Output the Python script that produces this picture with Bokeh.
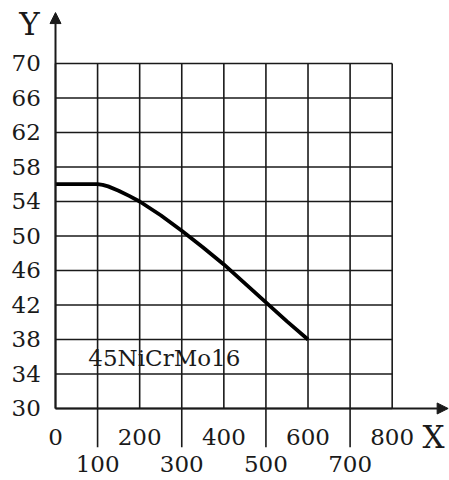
from bokeh.plotting import figure
from bokeh.models import Range1d, Arrow, NormalHead
from bokeh.core.properties import value
from bokeh.embed import file_html
from bokeh.resources import INLINE

# Data
curve_x = [0, 100, 112, 125, 150, 175, 200, 250, 300, 350, 400, 450, 500, 550, 600]
curve_y = [56, 56, 55.93, 55.75, 55.25, 54.65, 54.0, 52.4, 50.6, 48.7, 46.7, 44.5, 42.3, 40.1, 38]
x_ticks_even = [0, 200, 400, 600, 800]
x_ticks_odd = [100, 300, 500, 700]
y_ticks = [30, 34, 38, 42, 46, 50, 54, 58, 62, 66, 70]
series_label = "45NiCrMo16"

X_MIN, X_MAX, Y_MIN, Y_MAX = 0, 800, 30, 70
FONT = value("DejaVu Serif")
INK = "#1a1a1a"

p = figure(width=449, height=480, output_backend="svg", toolbar_location=None,
           x_range=Range1d(-130.7, 936.2), y_range=Range1d(21.65, 77.3),
           min_border=0, x_axis_type=None, y_axis_type=None)
p.grid.visible = False
p.outline_line_color = None
p.background_fill_color = "white"
p.border_fill_color = "white"

# grid
xs = [[x, x] for x in range(X_MIN, X_MAX + 1, 100)]
ys = [[Y_MIN, Y_MAX] for _ in xs]
p.multi_line(xs, ys, line_color=INK, line_width=1.6)
hx = [[X_MIN, X_MAX] for _ in y_ticks]
hy = [[y, y] for y in y_ticks]
p.multi_line(hx, hy, line_color=INK, line_width=1.6)

# long ticks for odd hundreds
p.multi_line([[x, x] for x in x_ticks_odd], [[Y_MIN, 25.5] for _ in x_ticks_odd],
             line_color=INK, line_width=1.6)

# axes with arrows
p.add_layout(Arrow(x_start=0, y_start=Y_MIN, x_end=0, y_end=75.9, line_color=INK, line_width=2,
                   end=NormalHead(size=11, fill_color=INK, line_color=INK)))
p.add_layout(Arrow(x_start=0, y_start=Y_MIN, x_end=933, y_end=Y_MIN, line_color=INK, line_width=2,
                   end=NormalHead(size=11, fill_color=INK, line_color=INK)))

# curve
p.line(curve_x, curve_y, line_color="black", line_width=3.8, line_join="round")

# tick labels
p.text(x=[-35] * len(y_ticks), y=y_ticks, text=[str(v) for v in y_ticks],
       text_font=FONT, text_font_size="23px", text_align="right", text_baseline="middle",
       text_color=INK)
p.text(x=x_ticks_even, y=[26.64] * len(x_ticks_even), text=[str(v) for v in x_ticks_even],
       text_font=FONT, text_font_size="23px", text_align="center", text_baseline="middle",
       text_color=INK)
p.text(x=x_ticks_odd, y=[23.62] * len(x_ticks_odd), text=[str(v) for v in x_ticks_odd],
       text_font=FONT, text_font_size="23px", text_align="center", text_baseline="middle",
       text_color=INK)

# axis titles
p.text(x=[898], y=[26.7], text=["X"], text_font=FONT, text_font_size="31px",
       text_align="center", text_baseline="middle", text_color=INK)
p.text(x=[-62], y=[74.6], text=["Y"], text_font=FONT, text_font_size="31px",
       text_align="center", text_baseline="middle", text_color=INK)

# series label
p.text(x=[78], y=[35.9], text=[series_label], text_font=FONT, text_font_size="23px",
       text_align="left", text_baseline="middle", text_color=INK)

open("out.html", "w").write(file_html(p, INLINE))
